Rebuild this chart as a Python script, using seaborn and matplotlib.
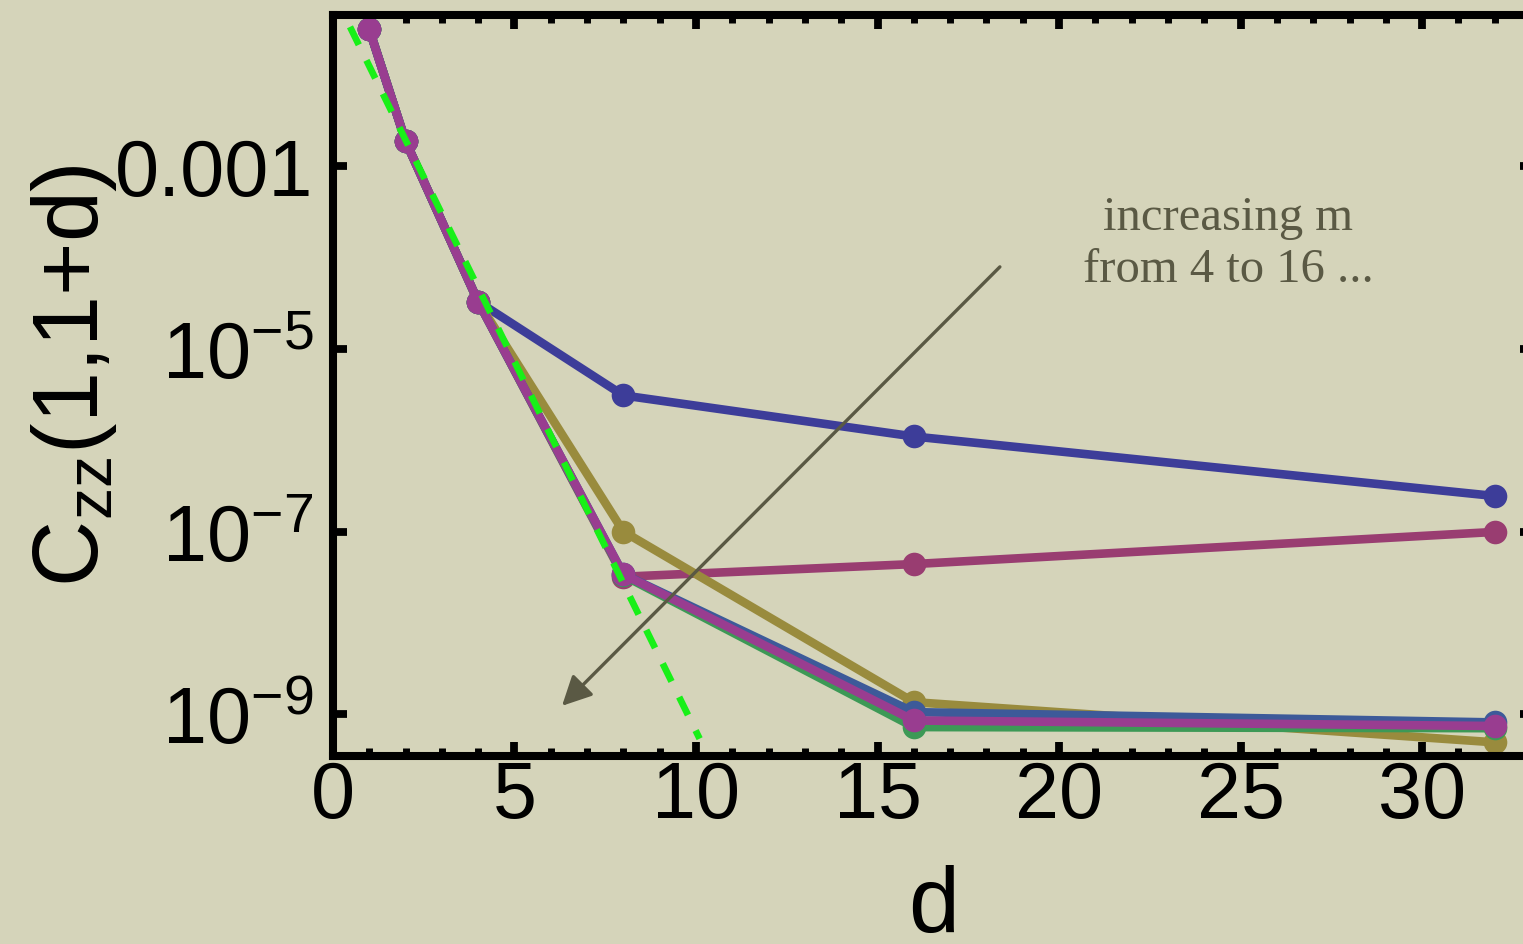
import numpy as np
import pandas as pd
import matplotlib
matplotlib.use("Agg")
import matplotlib.pyplot as plt
import matplotlib.ticker as mticker
import seaborn as sns

# separation between the two sites
d = [1, 2, 4, 8, 16, 32]

# correlation C_zz(1, 1+d) for each bond dimension m
m_values = [4, 6, 8, 10, 12, 16]
c_m4 = [3.2e-2, 1.9e-3, 3.3e-5, 3.1e-6, 1.1e-6, 2.45e-7]
c_m6 = [3.2e-2, 1.9e-3, 3.3e-5, 3.2e-8, 4.4e-8, 9.9e-8]
c_m8 = [3.2e-2, 1.9e-3, 3.3e-5, 1.0e-7, 1.35e-9, 4.9e-10]
c_m10 = [3.2e-2, 1.9e-3, 3.3e-5, 3.3e-8, 7.2e-10, 7.0e-10]
c_m12 = [3.2e-2, 1.9e-3, 3.3e-5, 3.4e-8, 1.05e-9, 8.1e-10]
c_m16 = [3.2e-2, 1.9e-3, 3.3e-5, 3.4e-8, 8.5e-10, 7.4e-10]

# exponential decay guide (straight line on the log axis)
fit_d = [0.47, 10.1]
fit_c = [10 ** -1.47, 10 ** -9.27]

# y tick labels
y_ticks = [1e-3, 1e-5, 1e-7, 1e-9]
y_tick_labels = ["0.001", r"$10^{-5}$", r"$10^{-7}$", r"$10^{-9}$"]

colors = ["#3d3d99", "#993d71", "#998b3d", "#3d9956", "#3d5a99", "#993d90"]
bg = "#d5d4ba"
ink = "#5a5944"

series = [c_m4, c_m6, c_m8, c_m10, c_m12, c_m16]
df = pd.DataFrame({
    "d": np.tile(d, len(m_values)),
    "C": np.concatenate(series),
    "m": np.repeat(m_values, len(d)),
})

sns.set_theme(style="ticks")
plt.rcParams["font.family"] = ["Liberation Sans", "DejaVu Sans"]
plt.rcParams["mathtext.fontset"] = "custom"
plt.rcParams["mathtext.rm"] = "Liberation Sans"
plt.rcParams["mathtext.it"] = "Liberation Sans:italic"
plt.rcParams["mathtext.default"] = "regular"
plt.rcParams["text.color"] = "black"
plt.rcParams["axes.labelcolor"] = "black"
plt.rcParams["xtick.labelcolor"] = "black"
plt.rcParams["ytick.labelcolor"] = "black"

fig = plt.figure(figsize=(15.23, 9.45), dpi=100, facecolor=bg)
ax = fig.add_axes([0.2186, 0.1989, 0.7886, 0.7842])
ax.set_facecolor(bg)

sns.lineplot(data=df, x="d", y="C", hue="m", palette=colors, marker="o",
             markersize=17, markeredgewidth=0, linewidth=6.2, legend=False,
             errorbar=None, ax=ax)

ax.plot(fit_d, fit_c, color="#18f018", lw=4.8, dashes=(3.0, 2.6), zorder=5)

ax.set_yscale("log")
ax.set_xlim(0, 33.08)
ax.set_ylim(10 ** -9.46, 10 ** -1.34)

ax.xaxis.set_major_locator(mticker.MultipleLocator(5))
ax.xaxis.set_minor_locator(mticker.MultipleLocator(1))
ax.yaxis.set_major_locator(mticker.FixedLocator(y_ticks))
ax.yaxis.set_major_formatter(mticker.FixedFormatter(y_tick_labels))
ax.yaxis.set_minor_locator(mticker.NullLocator())

ax.tick_params(which="both", direction="in", top=True, right=True,
               color="black", labelcolor="black", labelsize=57)
ax.tick_params(which="major", length=10, width=5.6)
ax.tick_params(which="minor", length=6, width=5.0)
ax.tick_params(axis="x", pad=2)
ax.tick_params(axis="y", pad=14)
for s in ax.spines.values():
    s.set_linewidth(5.8)
    s.set_color("black")

ax.set_xlabel("d", fontsize=66, va="baseline", color="black")
ax.xaxis.set_label_coords(0.5, -0.236)
ax.set_ylabel(r"$C_{zz}$(1,1+d)", fontsize=66, color="black")
ax.yaxis.set_label_coords(-0.178, 0.515)

ax.annotate("", xy=(6.31, 10 ** -8.91), xytext=(18.37, 10 ** -4.10),
            arrowprops=dict(arrowstyle="-|>", color=ink, lw=2.4,
                            mutation_scale=45, shrinkA=0, shrinkB=0),
            zorder=6)
ax.text(24.66, 10 ** -3.84, "increasing m\nfrom 4 to 16 ...", color=ink,
        fontsize=35, family=["Liberation Serif", "DejaVu Serif"],
        ha="center", va="center", linespacing=1.25)

fig.savefig("out.png", dpi=100, facecolor=bg)
